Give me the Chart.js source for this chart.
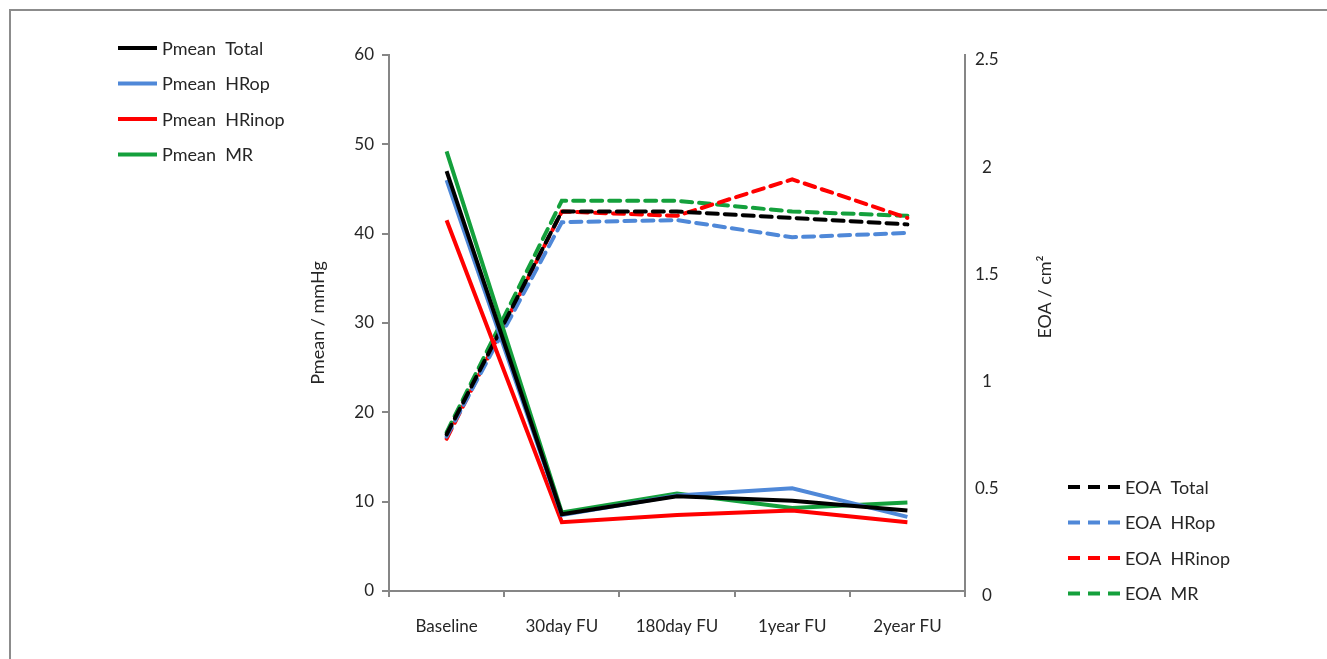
<!DOCTYPE html>
<html>
<head>
<meta charset="utf-8">
<script src="https://cdn.jsdelivr.net/npm/chart.js@4"></script>
<style>
  html, body { margin: 0; padding: 0; background: #fff; }
  #frame { position: absolute; left: 9px; top: 9px; width: 1318px; height: 650px;
           border-top: 2px solid #8c8c8c; border-left: 2px solid #8c8c8c; }
  #chart-container { position: absolute; left: 0; top: 0; width: 1327px; height: 659px; }
</style>
</head>
<body>
<div id="frame"></div>
<div id="chart-container"><canvas id="lineChart"></canvas></div>
<script>
// categories along the x axis
const visits = ['Baseline', '30day FU', '180day FU', '1year FU', '2year FU'];

// mean pressure gradient, mmHg (left axis)
const pmeanTotal = [47.0, 8.6, 10.6, 10.1, 9.0];
const pmeanHRop = [46.0, 8.5, 10.7, 11.5, 8.3];
const pmeanHRinop = [41.5, 7.7, 8.5, 9.0, 7.7];
const pmeanMR = [49.2, 8.8, 10.9, 9.3, 9.9];

// effective orifice area, cm2 (right axis)
const eoaTotal = [0.73, 1.77, 1.77, 1.74, 1.71];
const eoaHRop = [0.72, 1.72, 1.73, 1.65, 1.67];
const eoaHRinop = [0.71, 1.77, 1.75, 1.92, 1.74];
const eoaMR = [0.74, 1.82, 1.82, 1.77, 1.75];

// axis ranges / ticks
const leftMax = 60, leftStep = 10;
const rightMax = 2.5, rightStep = 0.5;

const BLACK = '#000000';
const BLUE = '#4f88d8';
const RED = '#ff0000';
const GREEN = '#14a03c';
const AXIS = '#868686';
const TEXT = '#262626';
const FONT = 'Lato, "Open Sans", sans-serif';

function solid(label, data, color) {
  return { label: label, data: data, borderColor: color, backgroundColor: color,
    borderWidth: 4, pointRadius: 0, tension: 0, yAxisID: 'y', fill: false };
}
function dashed(label, data, color) {
  return { label: label, data: data, borderColor: color, backgroundColor: color,
    borderWidth: 4, borderDash: [11, 7], borderCapStyle: 'round', pointRadius: 0,
    tension: 0, yAxisID: 'y1', fill: false };
}

// draws the two split legends and the axis titles
const extrasPlugin = {
  id: 'extras',
  afterDraw(chart) {
    const ctx = chart.ctx;
    ctx.save();
    ctx.font = '18px ' + FONT;
    ctx.fillStyle = TEXT;
    ctx.textBaseline = 'middle';
    ctx.textAlign = 'left';
    chart.data.datasets.forEach((ds, i) => {
      const isEoa = ds.yAxisID === 'y1';
      const row = isEoa ? i - 4 : i;
      const x0 = isEoa ? 1068 : 118;
      const x1 = isEoa ? 1120 : 157;
      const y = isEoa ? 487 + row * 35.5 : 48 + row * 35.5;
      ctx.strokeStyle = ds.borderColor;
      ctx.lineWidth = 4;
      ctx.setLineDash(isEoa ? [12, 8] : []);
      ctx.beginPath();
      ctx.moveTo(x0, y);
      ctx.lineTo(x1, y);
      ctx.stroke();
      ctx.setLineDash([]);
      ctx.fillText(ds.label, x1 + 5, y + 1);
    });

    // axis titles, both reading bottom to top
    ctx.font = '18px ' + FONT;
    ctx.textAlign = 'center';
    ctx.translate(318, 323);
    ctx.rotate(-Math.PI / 2);
    ctx.fillText('Pmean / mmHg', 0, 0);
    ctx.setTransform(1, 0, 0, 1, 0, 0);
    ctx.translate(1045, 297);
    ctx.rotate(-Math.PI / 2);
    ctx.fillText('EOA / cm²', 0, 0);
    ctx.restore();
  }
};

const ctx = document.getElementById('lineChart').getContext('2d');
const lineChart = new Chart(ctx, {
  type: 'line',
  data: {
    labels: visits,
    datasets: [
      solid('Pmean  Total', pmeanTotal, BLACK),
      solid('Pmean  HRop', pmeanHRop, BLUE),
      solid('Pmean  HRinop', pmeanHRinop, RED),
      solid('Pmean  MR', pmeanMR, GREEN),
      dashed('EOA  Total', eoaTotal, BLACK),
      dashed('EOA  HRop', eoaHRop, BLUE),
      dashed('EOA  HRinop', eoaHRinop, RED),
      dashed('EOA  MR', eoaMR, GREEN),
    ],
  },
  options: {
    responsive: true,
    maintainAspectRatio: false,
    animation: false,
    layout: {
      padding: { left: 280, right: 312, top: 55, bottom: 8 },
    },
    plugins: {
      legend: { display: false },
      tooltip: { enabled: false },
    },
    scales: {
      x: {
        offset: true,
        grid: { offset: true, drawOnChartArea: false, color: AXIS, tickLength: 6, lineWidth: 2 },
        border: { color: AXIS, width: 2 },
        ticks: { color: TEXT, font: { family: FONT, size: 17 }, padding: 19, maxRotation: 0 },
        afterFit(scale) { scale.height = 60; },
      },
      y: {
        position: 'left',
        min: 0,
        max: leftMax,
        grid: { drawOnChartArea: false, color: AXIS, tickLength: 7, lineWidth: 2 },
        border: { color: AXIS, width: 2 },
        ticks: { stepSize: leftStep, color: TEXT, font: { family: FONT, size: 17 }, padding: 8 },
        afterFit(scale) { scale.width = 109; },
      },
      y1: {
        position: 'right',
        min: 0,
        max: rightMax,
        grid: { drawOnChartArea: false, drawTicks: false },
        border: { color: AXIS, width: 2 },
        ticks: { stepSize: rightStep, color: TEXT, font: { family: FONT, size: 17 },
          padding: 10, labelOffset: 5, crossAlign: 'center',
          callback: function(value) { return String(value); } },
        afterFit(scale) { scale.width = 50; },
      },
    },
  },
  plugins: [extrasPlugin],
});
</script>
</body>
</html>
